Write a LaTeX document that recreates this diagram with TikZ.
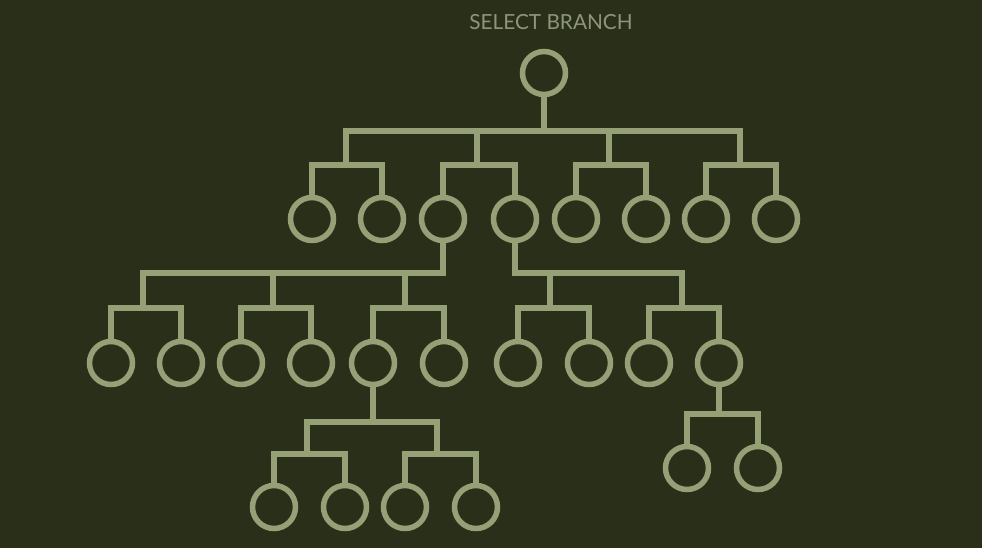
\documentclass[tikz,border=0pt]{standalone}
\usepackage{fontspec}
\setmainfont{Lato}
\definecolor{bgc}{RGB}{42,47,26}
\definecolor{linec}{RGB}{150,160,118}
\definecolor{txtc}{RGB}{140,150,120}
\begin{document}
\begin{tikzpicture}[x=1pt,y=-1pt,
  leaf/.style={draw=linec,circle,line width=5.5pt,minimum size=43pt,inner sep=0pt,outer sep=0pt},
  conn/.style={draw=linec,line width=5.5pt,line cap=rect,line join=miter}]
\fill[bgc] (0,0) rectangle (982,548);
\useasboundingbox (0,0) rectangle (982,548);
\node[text=txtc,font=\fontsize{20.8}{21}\selectfont] (title) at (551,22) {SELECT BRANCH};
% root
\node[leaf] (root) at (544,73) {};
% level 1
\foreach \n/\x in {a1/312,a2/382,a3/443,a4/515,a5/576,a6/646,a7/706,a8/776}
  \node[leaf] (\n) at (\x,219) {};
\coordinate (b0) at (544,131);
\coordinate (g1) at (346,165);
\coordinate (g2) at (477,165);
\coordinate (g3) at (609,165);
\coordinate (g4) at (740,165);
\path[conn] (root.south) -- (b0);
\path[conn] (g1) |- (b0) -| (g4);
\path[conn] (g2) -- (g2 |- b0);
\path[conn] (g3) -- (g3 |- b0);
\path[conn] (a1.north) |- (g1) -| (a2.north);
\path[conn] (a3.north) |- (g2) -| (a4.north);
\path[conn] (a5.north) |- (g3) -| (a6.north);
\path[conn] (a7.north) |- (g4) -| (a8.north);
% level 2
\foreach \n/\x in {c1/111,c2/181,c3/241,c4/311,c5/373,c6/444,c7/518,c8/589,c9/649,c10/719}
  \node[leaf] (\n) at (\x,363) {};
\coordinate (h1) at (143,308);
\coordinate (h2) at (273,308);
\coordinate (h3) at (405,308);
\coordinate (h4) at (550,308);
\coordinate (h5) at (682,308);
\coordinate (bl) at (143,273);
\coordinate (br) at (682,273);
\path[conn] (a3.south) |- (bl) -- (h1);
\path[conn] (h2) -- (h2 |- bl);
\path[conn] (h3) -- (h3 |- bl);
\path[conn] (a4.south) |- (br) -- (h5);
\path[conn] (h4) -- (h4 |- br);
\path[conn] (c1.north) |- (h1) -| (c2.north);
\path[conn] (c3.north) |- (h2) -| (c4.north);
\path[conn] (c5.north) |- (h3) -| (c6.north);
\path[conn] (c7.north) |- (h4) -| (c8.north);
\path[conn] (c9.north) |- (h5) -| (c10.north);
% level 3 right
\node[leaf] (e1) at (687,468) {};
\node[leaf] (e2) at (758,468) {};
\coordinate (k1) at (719,414);
\path[conn] (c10.south) -- (k1);
\path[conn] (e1.north) |- (k1) -| (e2.north);
% level 3 left
\foreach \n/\x in {d1/274,d2/345,d3/405,d4/476}
  \node[leaf] (\n) at (\x,507) {};
\coordinate (m0) at (373,422);
\coordinate (m1) at (307,454);
\coordinate (m2) at (437,454);
\path[conn] (c5.south) -- (m0);
\path[conn] (m1) |- (m0) -| (m2);
\path[conn] (d1.north) |- (m1) -| (d2.north);
\path[conn] (d3.north) |- (m2) -| (d4.north);
\end{tikzpicture}
\end{document}
